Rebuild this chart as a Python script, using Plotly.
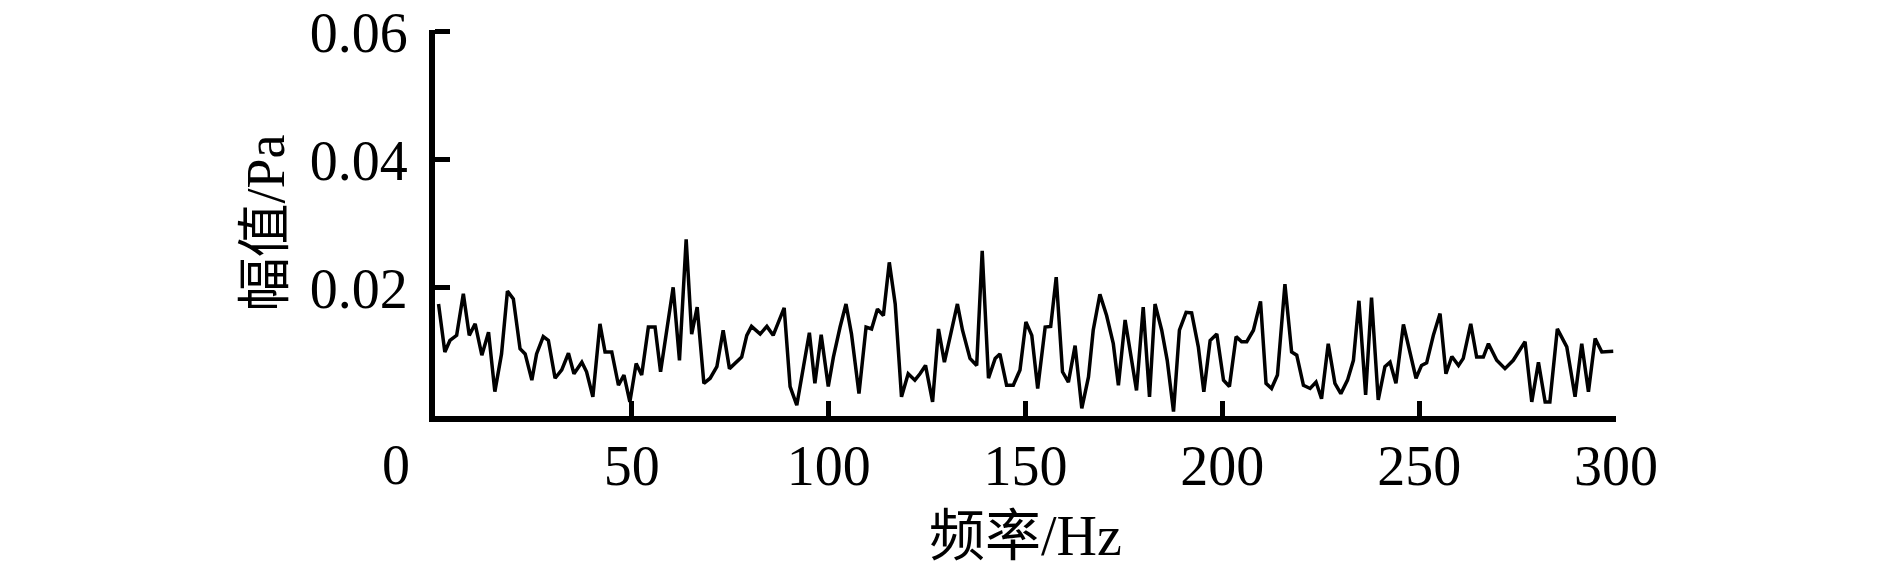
import plotly.graph_objects as go

# frequency (Hz) and amplitude (Pa)
freq = [
    0.9, 2.5, 3.8, 5.5, 7.2, 8.7, 10.2, 11.9, 13.6, 15.2,
    16.9, 18.4, 19.9, 21.6, 22.9, 24.6, 25.8, 27.5, 28.8, 30.5,
    32.2, 33.9, 35.3, 37.3, 38.5, 40.1, 41.9, 43.2, 44.9, 46.6,
    48.0, 49.5, 51.1, 52.5, 54.2, 55.9, 57.3, 58.9, 60.5, 62.1,
    63.8, 65.2, 66.6, 68.3, 69.9, 71.6, 73.2, 74.8, 76.5, 77.9,
    79.2, 80.4, 82.6, 84.3, 85.9, 88.7, 90.2, 91.9, 93.6, 95.1,
    96.5, 98.1, 99.9, 101.2, 102.9, 104.4, 105.8, 107.7, 109.5, 110.9,
    112.4, 113.9, 115.4, 116.9, 118.5, 120.2, 121.9, 123.2, 124.6, 126.4,
    127.9, 129.4, 131.0, 132.7, 134.0, 135.9, 137.6, 139.0, 140.6, 142.3,
    143.5, 145.2, 146.9, 148.6, 150.1, 151.6, 153.1, 155.0, 156.4, 157.8,
    159.4, 160.9, 162.6, 164.3, 166.0, 167.2, 168.9, 170.6, 172.3, 173.6,
    175.3, 176.6, 178.2, 179.9, 181.5, 182.9, 184.6, 186.0, 187.6, 189.1,
    190.8, 192.2, 193.9, 195.3, 196.9, 198.6, 200.3, 201.8, 203.5, 204.9,
    206.2, 207.9, 209.7, 211.1, 212.5, 214.0, 215.9, 217.6, 218.9, 220.6,
    222.3, 223.8, 225.2, 226.9, 228.6, 230.1, 231.8, 233.3, 234.7, 236.4,
    237.9, 239.6, 241.3, 242.6, 244.1, 246.0, 247.5, 249.2, 250.6, 251.9,
    253.6, 255.3, 256.8, 258.3, 260.0, 261.2, 263.1, 264.6, 266.3, 267.6,
    269.7, 271.8, 273.9, 276.9, 278.6, 280.3, 282.0, 283.2, 285.1, 287.5,
    289.6, 291.3, 293.0, 294.7, 296.4, 299.3,
]
amplitude = [
    0.0175, 0.0100, 0.0118, 0.0126, 0.0191, 0.0126, 0.0144, 0.0095, 0.0131, 0.0038,
    0.0097, 0.0195, 0.0183, 0.0105, 0.0097, 0.0056, 0.0097, 0.0124, 0.0118, 0.0059,
    0.0072, 0.0098, 0.0066, 0.0084, 0.0069, 0.0030, 0.0144, 0.0100, 0.0100, 0.0048,
    0.0064, 0.0022, 0.0082, 0.0064, 0.0139, 0.0139, 0.0069, 0.0139, 0.0201, 0.0087,
    0.0276, 0.0128, 0.0170, 0.0051, 0.0059, 0.0077, 0.0134, 0.0074, 0.0084, 0.0092,
    0.0126, 0.0140, 0.0128, 0.0140, 0.0126, 0.0169, 0.0046, 0.0017, 0.0077, 0.0130,
    0.0051, 0.0127, 0.0046, 0.0092, 0.0139, 0.0175, 0.0128, 0.0035, 0.0139, 0.0136,
    0.0167, 0.0157, 0.0240, 0.0175, 0.0030, 0.0066, 0.0056, 0.0066, 0.0079, 0.0022,
    0.0136, 0.0084, 0.0128, 0.0175, 0.0134, 0.0090, 0.0079, 0.0258, 0.0059, 0.0090,
    0.0097, 0.0048, 0.0048, 0.0072, 0.0147, 0.0126, 0.0043, 0.0139, 0.0140, 0.0217,
    0.0069, 0.0053, 0.0110, 0.0012, 0.0061, 0.0134, 0.0190, 0.0157, 0.0113, 0.0048,
    0.0150, 0.0097, 0.0040, 0.0170, 0.0030, 0.0175, 0.0134, 0.0087, 0.0007, 0.0134,
    0.0162, 0.0161, 0.0108, 0.0038, 0.0118, 0.0128, 0.0056, 0.0046, 0.0124, 0.0116,
    0.0116, 0.0134, 0.0179, 0.0051, 0.0043, 0.0064, 0.0206, 0.0100, 0.0095, 0.0048,
    0.0043, 0.0053, 0.0027, 0.0113, 0.0051, 0.0035, 0.0056, 0.0087, 0.0180, 0.0033,
    0.0185, 0.0025, 0.0077, 0.0084, 0.0051, 0.0143, 0.0103, 0.0059, 0.0079, 0.0083,
    0.0126, 0.0160, 0.0066, 0.0093, 0.0079, 0.0090, 0.0144, 0.0092, 0.0092, 0.0113,
    0.0087, 0.0074, 0.0087, 0.0116, 0.0022, 0.0084, 0.0022, 0.0022, 0.0136, 0.0108,
    0.0030, 0.0113, 0.0038, 0.0121, 0.0100, 0.0101,
]

x_ticks = [50, 100, 150, 200, 250, 300]
y_ticks = [0.02, 0.04, 0.06]

FONT = "Liberation Serif, Times New Roman, Noto Sans CJK SC, serif"

fig = go.Figure()
fig.add_trace(go.Scatter(x=freq, y=amplitude, mode="lines",
                         line=dict(color="black", width=3.5),
                         showlegend=False, hoverinfo="skip"))

axis_style = dict(showline=True, linecolor="black", linewidth=6,
                  ticks="inside", ticklen=15, tickwidth=5, tickcolor="black",
                  showgrid=False, zeroline=False, automargin=False,
                  ticklabeloverflow="allow")

fig.update_xaxes(range=[0, 300], tickvals=x_ticks,
                 ticklabelstandoff=-4,
                 title=dict(text="频率/Hz", standoff=22, font=dict(size=56)),
                 **axis_style)
fig.update_yaxes(range=[0, 0.0603], tickvals=y_ticks, tickformat=".2f",
                 ticklabelstandoff=10,
                 title=dict(text="幅值/Pa", standoff=10, font=dict(size=54)),
                 **axis_style)

# the origin "0" sits to the lower left of the corner in the original
fig.add_annotation(text="0", xref="paper", yref="paper", x=-0.033, y=0,
                   xanchor="center", yanchor="top", yshift=-16,
                   showarrow=False, font=dict(size=56))

# page body keeps its default 8px margin, so the figure is 16px smaller
fig.update_layout(width=1874, height=563,
                  margin=dict(l=427, r=266, t=22, b=155),
                  paper_bgcolor="white", plot_bgcolor="white",
                  font=dict(family=FONT, size=56, color="black"))

fig.write_html("out.html")
